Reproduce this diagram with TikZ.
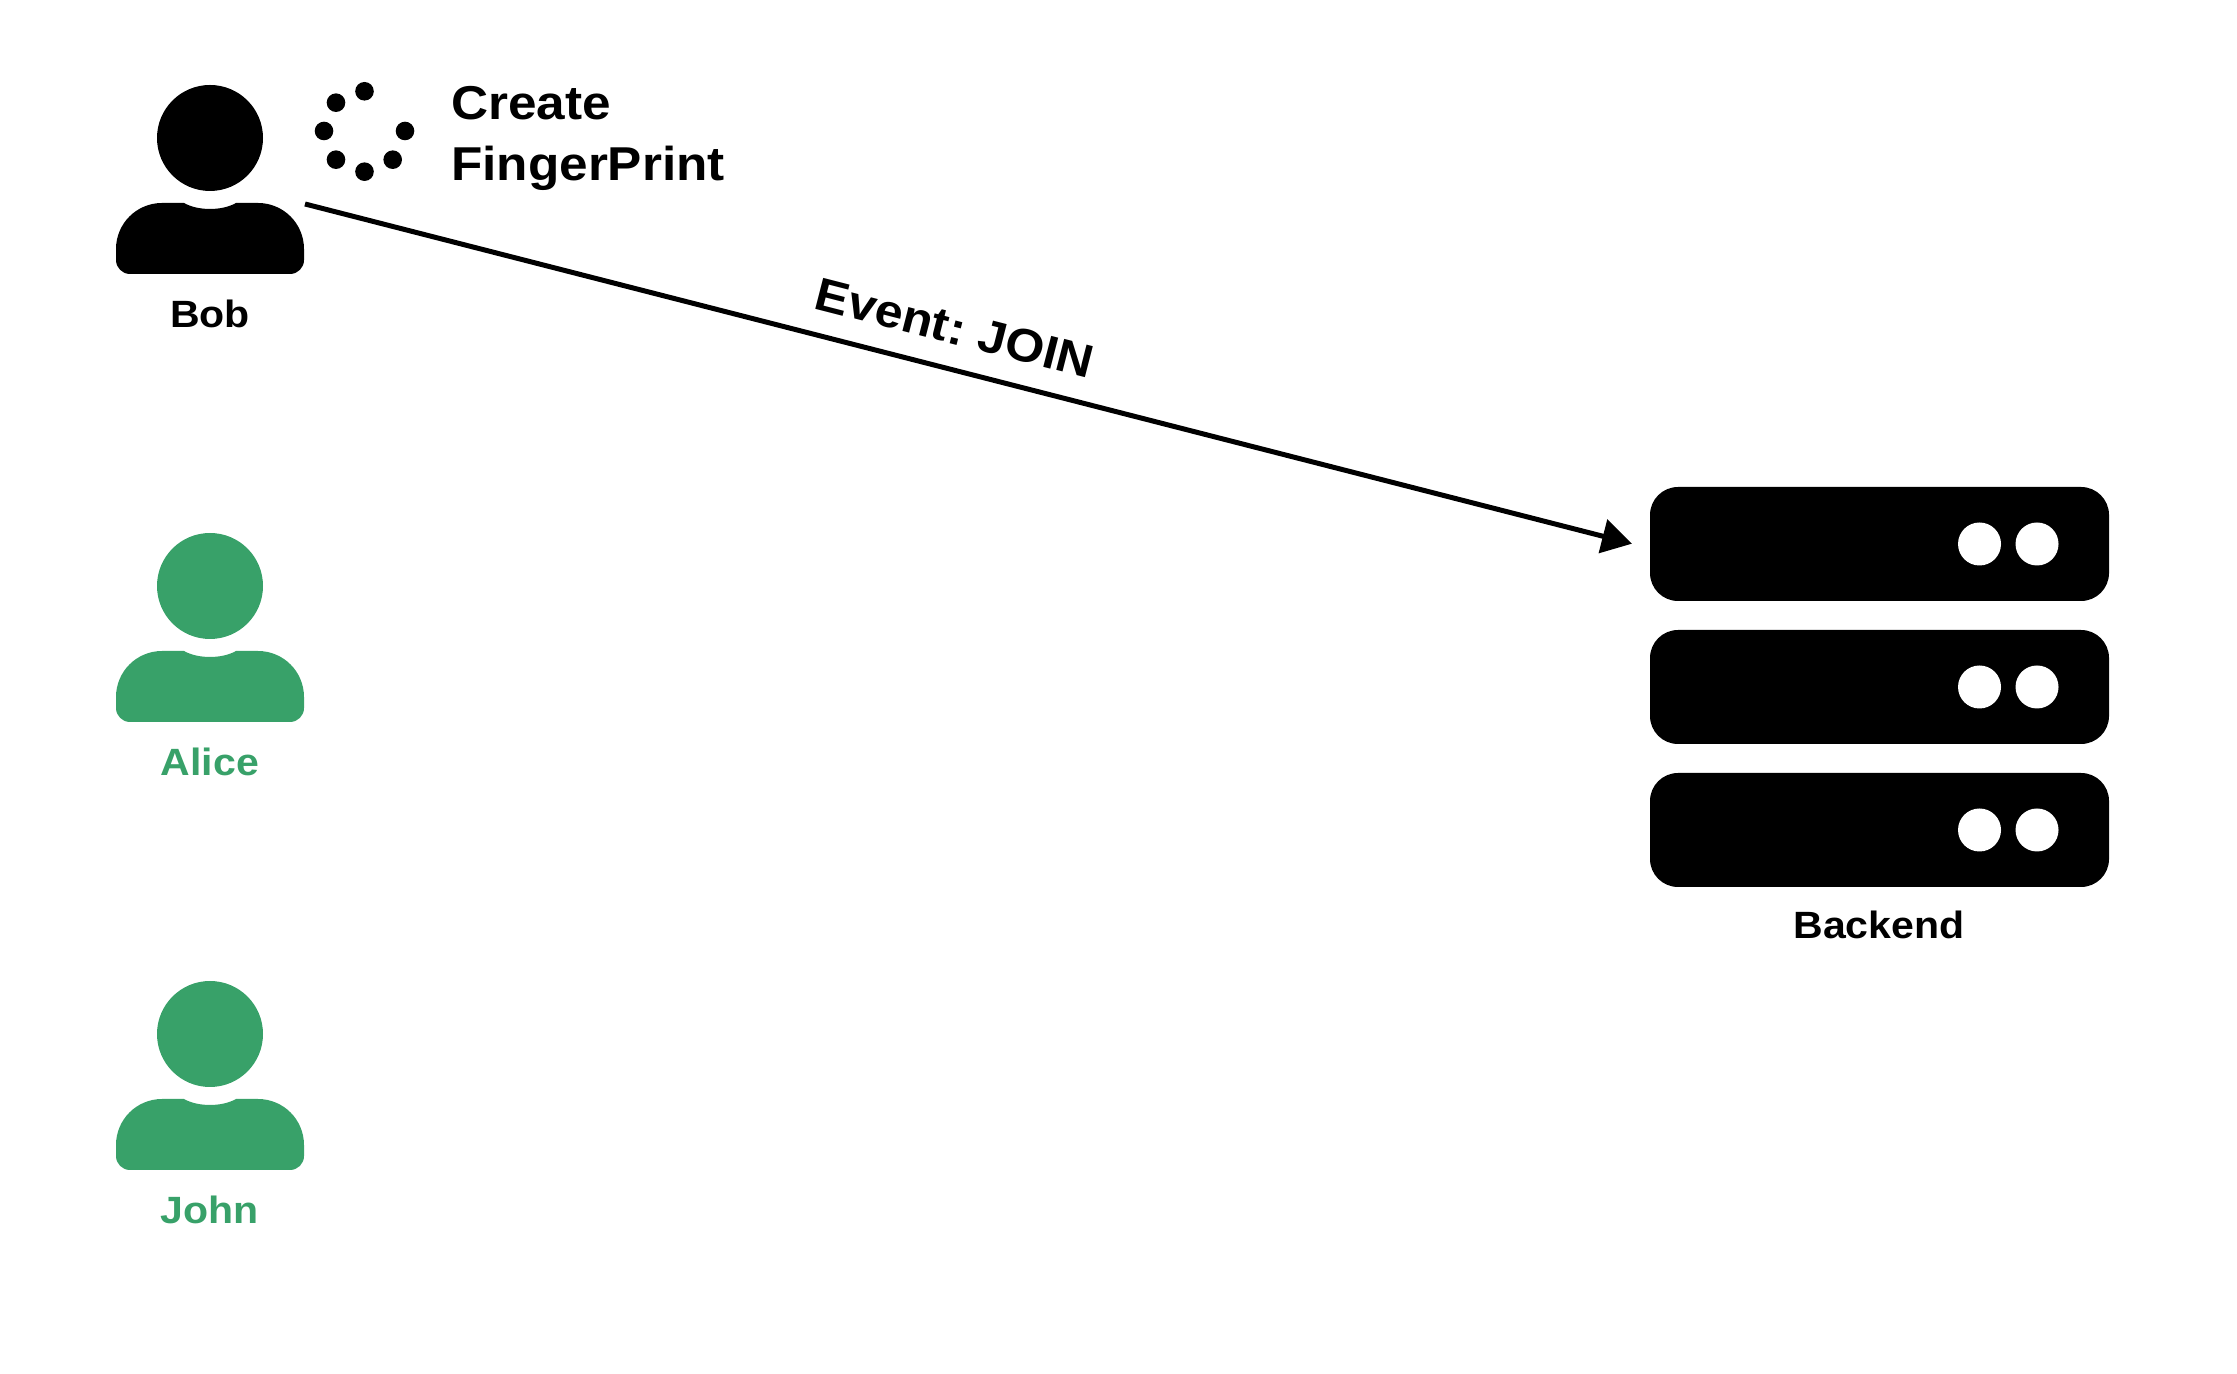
\documentclass[tikz,border=0pt]{standalone}
\usepackage{fontspec}
\setmainfont{Liberation Sans}[FakeStretch=1.08,WordSpace=0.7]
\usepackage{tikz}
\usetikzlibrary{arrows.meta,positioning}
\definecolor{joined}{HTML}{38A169}

\tikzset{
  spinnerdot/.style={circle,fill=black,inner sep=0pt,minimum size=18.6pt},
  tag/.style={font=\fontsize{38}{38}\selectfont\bfseries,anchor=base,inner sep=0pt},
  title/.style={font=\fontsize{47.5}{61}\selectfont\bfseries,align=left,inner sep=0pt},
  person/.pic={
    \node[circle,fill,inner sep=0pt,minimum size=106pt] (-head) at (0,0) {};
    \fill (-94,-122) -- (-94,-111)
      arc[start angle=180,end angle=90,radius=46] -- (-26,-65)
      .. controls (-12,-73) and (12,-73) .. (26,-65) -- (48,-65)
      arc[start angle=90,end angle=0,radius=46] -- (94,-122)
      arc[start angle=0,end angle=-90,radius=14] -- (-80,-136)
      arc[start angle=270,end angle=180,radius=14] -- cycle;
    \coordinate (-shoulder) at (95,-66);
    \node[tag] (-name) at (0,-190) {\tikzpictext};
  },
  rack/.pic={
    \fill[rounded corners=28pt] (-229.5,-57) rectangle (229.5,57);
    \node[circle,fill=white,inner sep=0pt,minimum size=43pt] (-led_1) at (100,0) {};
    \node[circle,fill=white,inner sep=0pt,minimum size=43pt] (-led_2) at (157.5,0) {};
  },
}

\begin{document}
\begin{tikzpicture}[x=1pt,y=1pt]
   \useasboundingbox (0,0) rectangle (2237,1373);
   \pic[pic text=Bob] (bob) at (210,1235) {person};
   \pic[color=joined,pic text=Alice] (alice) at (210,787) {person};
   \pic[color=joined,pic text=John] (john) at (210,339) {person};

   \coordinate (spin) at (364.5,1242);
   \node[spinnerdot] (dot_1) at ([shift={(0,39.7)}]spin) {};
   \node[spinnerdot] (dot_2) at ([shift={(-28.5,28.3)}]spin) {};
   \node[spinnerdot] (dot_3) at ([shift={(-40.5,0)}]spin) {};
   \node[spinnerdot] (dot_4) at ([shift={(-28.5,-28.7)}]spin) {};
   \node[spinnerdot] (dot_5) at ([shift={(0,-40.7)}]spin) {};
   \node[spinnerdot] (dot_6) at ([shift={(28.2,-28.7)}]spin) {};
   \node[spinnerdot] (dot_7) at ([shift={(40.5,0)}]spin) {};
   \node[title,anchor=north west] (create) at (451,1287) {Create\\FingerPrint};

   \pic (rack_1) at (1879.5,829) {rack};
   \pic (rack_2) at (1879.5,686) {rack};
   \pic (rack_3) at (1879.5,543) {rack};
   \node[tag] (backend) at (1879,434) {Backend};

   \coordinate (rack_in) at (1632,829.3);
   \draw[line width=5pt,-{Triangle[length=30pt,width=34pt]}] (bob-shoulder) -- (rack_in)
     node[tag,font=\fontsize{46.5}{46}\selectfont\bfseries,pos=0.482,sloped,above=22pt] (event) {Event: JOIN};
\end{tikzpicture}
\end{document}
